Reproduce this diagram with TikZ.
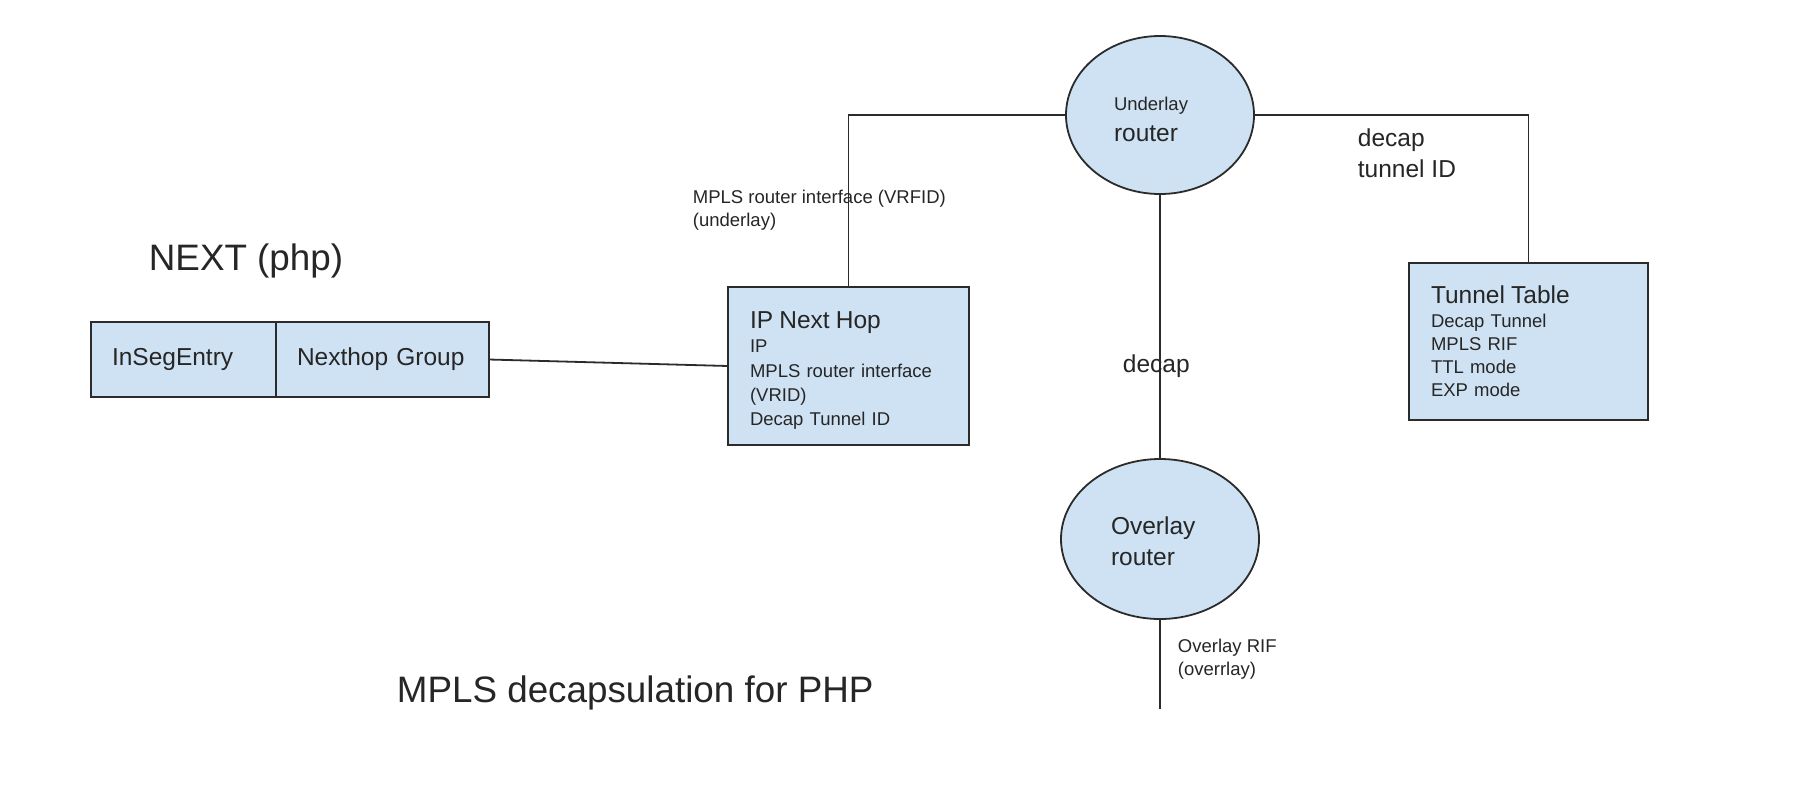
\documentclass[tikz,border=0pt]{standalone}
\usepackage{xcolor}
\usepackage{fontspec}
\setmainfont{Liberation Sans}
\usepackage{tikz}
\usetikzlibrary{positioning, shapes, shapes.geometric, calc}

\definecolor{boxblue}{HTML}{CFE2F3}
\definecolor{inkgray}{HTML}{2B2B2B}
\newcommand{\smtxt}{\fontsize{18.5}{23.2}\selectfont}
\newcommand{\mdtxt}{\fontsize{24.5}{30.5}\selectfont}
\newcommand{\bigtxt}{\fontsize{36.8}{44}\selectfont}

\begin{document}
\begin{tikzpicture}[x=1pt, y=-1pt, line width=1.8pt, every node/.style={text=black!85},
	tbl/.style={draw=inkgray, fill=boxblue, rectangle, outer sep=0pt, minimum height=75pt, align=left, inner xsep=21pt, font=\mdtxt},
	card/.style={draw=inkgray, fill=boxblue, rectangle, outer sep=0pt, align=left, inner xsep=22pt, font=\smtxt},
	rtr/.style={draw=inkgray, fill=boxblue, ellipse, outer sep=0pt, align=left, font=\mdtxt},
	lbl/.style={inner sep=0pt, align=left, anchor=north west}]
				\path[use as bounding box, fill=white] (0,0) rectangle (1810,804);
				
				\node [tbl, text width=143pt] (ise) at (183.5,359.5) {InSegEntry};
				\node [tbl, text width=171pt, right=0pt of ise] (ng) {Nexthop Group};
				
				\node [card, text width=197pt, minimum height=158pt, font=\fontsize{18.5}{24.2}\selectfont] (ipnh) at (848.5,366) {{\mdtxt\rule{0pt}{26pt}IP Next Hop}\\IP\\MPLS router interface\\(VRID)\\Decap Tunnel ID};
				\node [card, text width=195pt, minimum height=157pt] (tt) at (1528.5,341.5) {{\mdtxt Tunnel Table}\\Decap Tunnel\\MPLS RIF\\TTL mode\\EXP mode};
				
				\node [rtr, text width=92pt, minimum width=188pt, minimum height=158pt] (ul) at (1160,115) {{\smtxt\rule{0pt}{22pt}Underlay}\\router};
				\node [rtr, text width=98pt, minimum width=198pt, minimum height=160pt] (ol) at (1160,539) {\rule{0pt}{22pt}Overlay\\router};
				\coordinate (olend) at (1160,709);
				
				\draw [inkgray] (ng.east) -- (ipnh.west);
				\draw [inkgray] (ul.west) -| (ipnh.north);
				\draw [inkgray] (ul.east) -| (tt.north);
				\draw [inkgray] (ul.south) -- (ol.north);
				\draw [inkgray] (ol.south) -- (olend);
				
				\node [lbl, anchor=base west, font=\bigtxt] (nexttitle) at (148,270) {NEXT (php)};
				\node [lbl, anchor=base west, font=\bigtxt] (caption) at (396,702) {MPLS decapsulation for PHP};
				\node [lbl, font=\smtxt] (vrfid) at (692,189) {MPLS router interface (VRFID)\\(underlay)};
				\node [lbl, font=\mdtxt] (tunid) at (1357,128) {decap\\tunnel ID};
				\node [lbl, anchor=base west, font=\mdtxt] (declbl) at (1122,372.5) {decap};
				\node [lbl, font=\smtxt] (rif) at (1177,638) {Overlay RIF\\(overrlay)};
\end{tikzpicture}
\end{document}
